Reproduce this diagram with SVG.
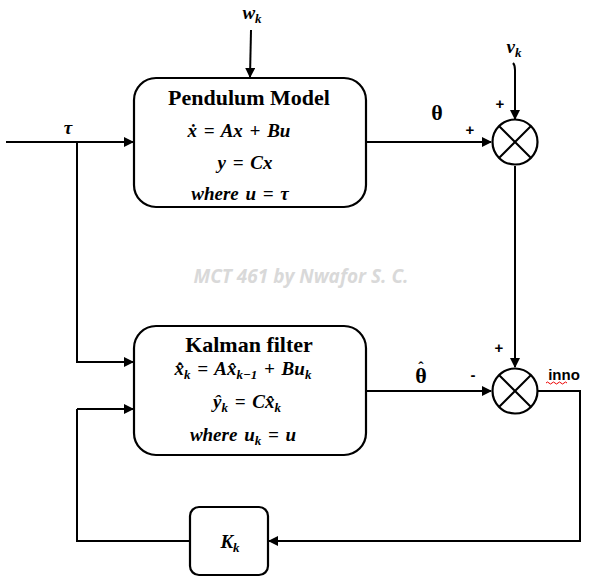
<svg xmlns="http://www.w3.org/2000/svg" width="592" height="582" viewBox="0 0 592 582">
<defs>
<marker id="ah" markerWidth="10" markerHeight="10" refX="9" refY="5" orient="auto" markerUnits="userSpaceOnUse">
<path d="M0,0 L10,5 L0,10 z" fill="#000"/>
</marker>
<style>
.box{fill:#fff;stroke:#000;stroke-width:2.2}
.ln{fill:none;stroke:#000;stroke-width:2}
.ttl{font-family:"Liberation Serif",serif;font-weight:bold;font-size:22px;text-anchor:middle}
.eq{font-family:"Liberation Serif",serif;font-weight:bold;font-style:italic;font-size:19px;text-anchor:middle;word-spacing:2px}
.sg{font-family:"Liberation Sans",sans-serif;font-weight:bold;font-size:15px;text-anchor:middle}
.sub{font-size:13px}
</style>
</defs>
<rect width="592" height="582" fill="#fff"/>
<text x="301" y="283" text-anchor="middle" font-family="'Open Sans',sans-serif" font-style="italic" font-weight="bold" font-size="19" fill="#d9d9d9">MCT 461 by Nwafor S. C.</text>
<g id="connectors">
<path class="ln" d="M6,142 H133" marker-end="url(#ah)"/>
<path class="ln" d="M77,142 V362 H133" marker-end="url(#ah)"/>
<path class="ln" d="M77,409 V541 H190"/>
<path class="ln" d="M77,409 H133" marker-end="url(#ah)"/>
<path class="ln" d="M251,30 L250,77" marker-end="url(#ah)"/>
<path class="ln" d="M366,142 H491" marker-end="url(#ah)"/>
<path class="ln" d="M513,63 Q515,65 515,70 V119" marker-end="url(#ah)"/>
<path class="ln" d="M515,166 V367" marker-end="url(#ah)"/>
<path class="ln" d="M366,391 H491" marker-end="url(#ah)"/>
<path class="ln" d="M538,391 H580 V541 H269" marker-end="url(#ah)"/>
</g>
<g id="pendulum">
<rect class="box" x="134" y="78" width="232" height="129" rx="22"/>
<text class="ttl" x="249" y="105">Pendulum Model</text>
<text class="eq" x="239" y="137">ẋ = Ax + Bu</text>
<text class="eq" x="245" y="169">y = Cx</text>
<text class="eq" x="240" y="200">where u =  τ</text>
</g>
<g id="kalman">
<rect class="box" x="134" y="326" width="232" height="129" rx="22"/>
<text class="ttl" x="249" y="352">Kalman filter</text>
<text class="eq" x="243" y="375">x̂̇<tspan class="sub" dy="4">k</tspan><tspan dy="-4"> = Ax̂</tspan><tspan class="sub" dy="4">k−1</tspan><tspan dy="-4"> + Bu</tspan><tspan class="sub" dy="4">k</tspan></text>
<text class="eq" x="247" y="408">ŷ<tspan class="sub" dy="4">k</tspan><tspan dy="-4"> = Cx̂</tspan><tspan class="sub" dy="4">k</tspan></text>
<text class="eq" x="243" y="441">where u<tspan class="sub" dy="4">k</tspan><tspan dy="-4"> =  u</tspan></text>
</g>
<g id="sum1">
<circle class="box" cx="515" cy="142" r="22.5"/>
<path class="ln" d="M499,126 L531,158 M531,126 L499,158"/>
</g>
<g id="sum2">
<circle class="box" cx="515" cy="391" r="22.5"/>
<path class="ln" d="M499,375 L531,407 M531,375 L499,407"/>
</g>
<g id="gain">
<rect class="box" x="190" y="507" width="78" height="68" rx="9"/>
<text class="eq" x="230" y="548">K<tspan class="sub" dy="4">k</tspan></text>
</g>
<g id="labels">
<text class="eq" x="252" y="19">w<tspan class="sub" dy="4">k</tspan></text>
<text class="eq" x="514" y="53">v<tspan class="sub" dy="4">k</tspan></text>
<text class="eq" x="68" y="134" font-size="21">τ</text>
<text class="ttl" x="437" y="120" font-size="19">θ</text>
<text class="ttl" x="421" y="383" font-size="19">θ<tspan x="421" dy="-10" font-size="16">ˆ</tspan></text>
<text class="sg" x="470" y="135">+</text>
<text class="sg" x="500" y="109">+</text>
<text class="sg" x="499" y="353">+</text>
<text class="sg" x="473" y="380">-</text>
<text class="sg" x="564" y="380" font-size="16">inno</text>
<path d="M546,383 q1.5,-2 3,0 t3,0 t3,0 t3,0 t3,0 t3,0 t3,0" fill="none" stroke="#e00" stroke-width="1"/>
</g>
</svg>
